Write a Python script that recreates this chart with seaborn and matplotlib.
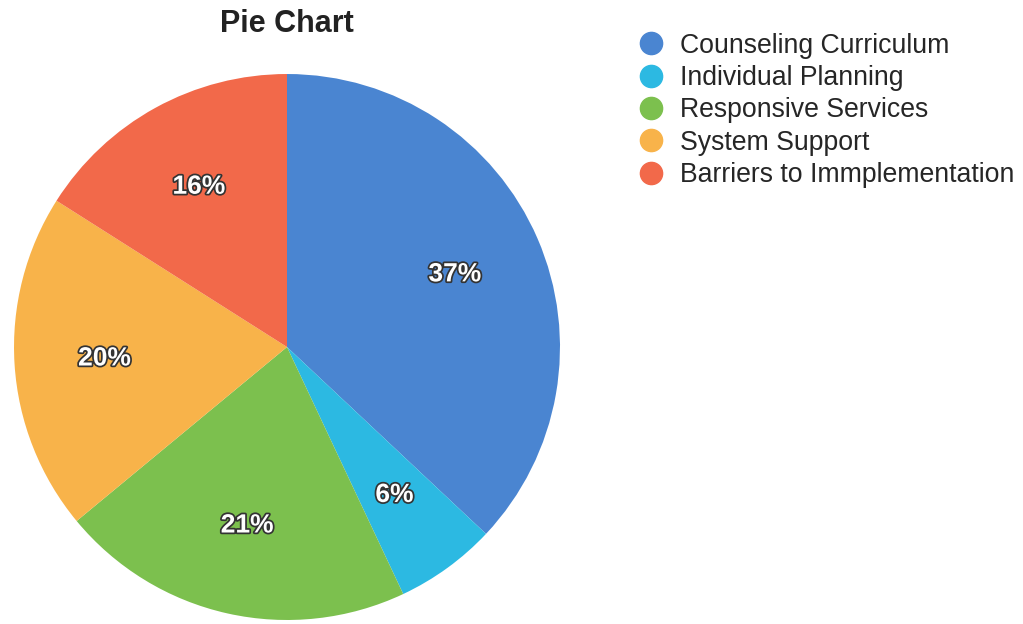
import matplotlib
matplotlib.use('Agg')
import matplotlib.pyplot as plt
import matplotlib.patheffects as pe
from matplotlib.lines import Line2D
import seaborn as sns

# Data
categories = ['Counseling Curriculum', 'Individual Planning', 'Responsive Services',
              'System Support', 'Barriers to Immplementation']
shares = [37, 6, 21, 20, 16]
colors = ['#4a85d1', '#2cb9e2', '#7cc04e', '#f8b34a', '#f2694a']

sns.set_theme(style='white')
plt.rcParams['font.family'] = ['Liberation Sans', 'DejaVu Sans']

fig = plt.figure(figsize=(10.23, 6.24), dpi=100)
ax = fig.add_axes([0.0137, 0.0064, 0.5337, 0.875])

wedges, texts, autotexts = ax.pie(
    shares, colors=sns.color_palette(colors), startangle=90, counterclock=False,
    autopct='%1.0f%%', pctdistance=0.67, wedgeprops=dict(linewidth=0),
    textprops=dict(color='white', fontsize=19, fontweight='bold'))
for t in autotexts:
    t.set_path_effects([pe.withStroke(linewidth=2.5, foreground='#333333')])
ax.set_xlim(-1, 1)
ax.set_ylim(-1, 1)
ax.set_aspect('equal')

fig.text(0.28, 0.962, 'Pie Chart', ha='center', va='center',
         fontsize=22, fontweight='bold', color='#222222')

# Legend with round markers
handles = [Line2D([0], [0], marker='o', linestyle='', markersize=16,
                  markerfacecolor=c, markeredgecolor=c) for c in colors]
fig.legend(handles, categories, loc='upper left', bbox_to_anchor=(0.61, 0.965),
           frameon=False, fontsize=19.2, labelspacing=0.24, handletextpad=0.5,
           handlelength=1.2, borderaxespad=0)

fig.savefig('out.png', dpi=100)
